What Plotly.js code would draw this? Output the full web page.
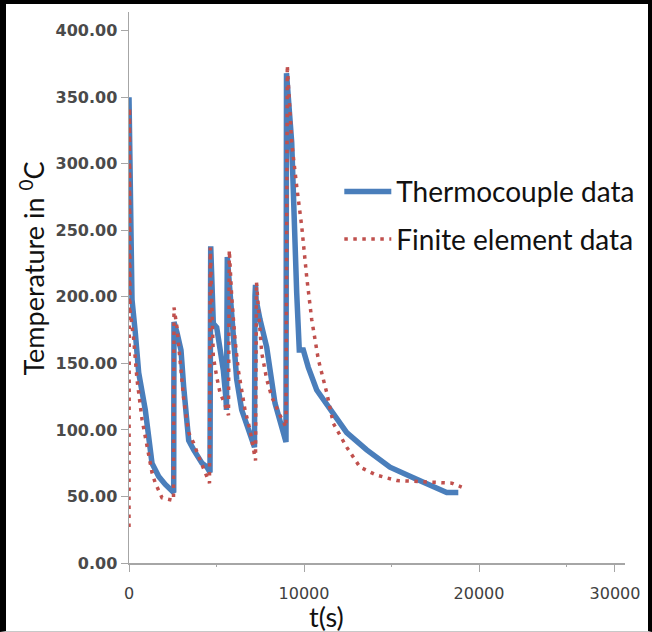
<!DOCTYPE html>
<html>
<head>
<meta charset="utf-8">
<script src="https://cdn.plot.ly/plotly-3.0.1.min.js"></script>
<style>
  html, body { margin: 0; padding: 0; background: #ffffff; }
  #wrap { position: relative; width: 652px; height: 632px; }
  #chart { width: 652px; height: 632px; }
  #frame { position: absolute; left: 0; top: 0; width: 652px; height: 632px; box-sizing: border-box;
           border-left: 6px solid #000; border-top: 4px solid #000; border-right: 4px solid #000;
           border-bottom: 1px solid #c8c8c8; pointer-events: none; }
</style>
</head>
<body>
<div id="wrap"><div id="chart"></div><div id="frame"></div></div>
<script>
// Thermocouple data (time in s, temperature in °C)
const tcTime = [0, 86, 171, 360, 554, 931, 1314, 1697, 2074, 2554,
  2571, 2743, 2971, 3126, 3411, 3697, 4171, 4457, 4629,
  4669, 4817, 5011, 5200, 5389, 5543, 5570,
  5617, 5869, 6154, 6440, 6914, 7171,
  7200, 7229, 7260, 7486, 7869, 8343, 8629, 8914, 8971,
  9000, 9297, 9583, 9731, 9960, 10246, 10726, 11486, 12440, 13583, 14914, 16246, 17583, 18154, 18817];
const tcTemp = [350, 213, 198, 173, 143, 115, 75, 65, 59, 53,
  181, 173, 160, 132, 92, 85, 75, 72, 68,
  238, 180, 177, 162, 145, 123, 115,
  230, 180, 138, 115, 98, 87,
  201, 209, 198, 183, 162, 120, 105, 94, 91,
  368, 316, 203, 160, 160, 147, 130, 115, 98, 85, 72, 64, 57, 53, 53];

// Finite element data
const feTime = [0, 29, 57, 269, 457, 743, 1029, 1314, 1503, 1886, 2543,
  2571, 2743, 2914, 3126, 3411, 3697, 3983, 4269, 4600,
  4646, 4817, 5011, 5200, 5486, 5686,
  5731, 5869, 6057, 6246, 6629, 6914, 7229,
  7286, 7389, 7583, 7869, 8154, 8629, 8971,
  9046, 9297, 9583, 9869, 10154, 10440, 10817, 11297, 11674, 12440, 13200, 14154, 15297, 16629, 17771, 18440, 19011];
const feTemp = [27, 342, 190, 168, 138, 108, 87, 68, 60, 49, 47,
  192, 177, 153, 123, 98, 90, 80, 70, 60,
  237, 155, 140, 128, 119, 111,
  235, 200, 168, 145, 115, 100, 77,
  211, 192, 158, 138, 125, 111, 102,
  374, 316, 283, 253, 215, 183, 153, 128, 105, 87, 72, 66, 62, 61, 60, 60, 57];

const seriesNames = ['Thermocouple data', 'Finite element data'];
const xTickVals = [0, 10000, 20000, 27770];
const xTickText = ['0', '10000', '20000', '30000'];
const yTickVals = [0, 50, 100, 150, 200, 250, 300, 350, 400];
const yTickText = ['0.00', '50.00', '100.00', '150.00', '200.00', '250.00', '300.00', '350.00', '400.00'];

const traces = [
  { x: tcTime, y: tcTemp, name: seriesNames[0], type: 'scatter', mode: 'lines', legendgroup: 'a',
    line: { color: '#4a7ebb', width: 5.5 } },
  { x: feTime, y: feTemp, name: seriesNames[1], type: 'scatter', mode: 'lines', legendgroup: 'b',
    line: { color: '#c0504d', width: 3.5, dash: '3.5px,5.5px' } }
];

const layout = {
  width: 652, height: 632,
  margin: { l: 129, r: 27, t: 12, b: 69, autoexpand: false },
  paper_bgcolor: '#ffffff', plot_bgcolor: '#ffffff',
  font: { family: 'Lato, sans-serif', color: '#000' },
  showlegend: true,
  legend: {
    x: 0.424, xanchor: 'left', y: 0.719, yanchor: 'top',
    bgcolor: 'rgba(0,0,0,0)', font: { family: 'Lato, sans-serif', size: 28, color: '#111' },
    tracegroupgap: 8, itemwidth: 47
  },
  xaxis: {
    range: [0, 28343], showgrid: false, zeroline: false,
    showline: true, linecolor: '#a6a6a6', linewidth: 1.5,
    ticks: 'outside', ticklen: 7, tickcolor: '#a6a6a6', tickwidth: 1,
    tickmode: 'array', tickvals: xTickVals, ticktext: xTickText,
    ticklabelstandoff: 8,
    tickfont: { family: 'DejaVu Sans, sans-serif', size: 16, color: '#404040' },
    minor: { tickmode: 'array', tickvals: [5000, 15000, 25000], ticks: 'outside', ticklen: 2, tickcolor: '#a6a6a6' }
  },
  yaxis: {
    range: [0, 414], showgrid: false, zeroline: false,
    showline: true, linecolor: '#a6a6a6', linewidth: 1.5,
    ticks: 'outside', ticklen: 7, tickcolor: '#a6a6a6', tickwidth: 1,
    tickmode: 'array', tickvals: yTickVals, ticktext: yTickText,
    tickfont: { family: 'DejaVu Sans, sans-serif', size: 16, weight: 'bold', color: '#4a4a4a' }
  },
  annotations: [
    { text: 'Temperature in <sup>0</sup>C', xref: 'paper', yref: 'paper', x: -0.196, y: 0.534,
      textangle: -90, showarrow: false, xanchor: 'center', yanchor: 'middle',
      font: { family: 'Lato, sans-serif', size: 27, color: '#111' } },
    { text: 't(s)', xref: 'paper', yref: 'paper', x: 0.399, y: -0.098,
      showarrow: false, xanchor: 'center', yanchor: 'middle',
      font: { family: 'Lato, sans-serif', size: 27, color: '#111' } }
  ]
};

Plotly.newPlot('chart', traces, layout, { displayModeBar: false, staticPlot: true });
</script>
</body>
</html>
